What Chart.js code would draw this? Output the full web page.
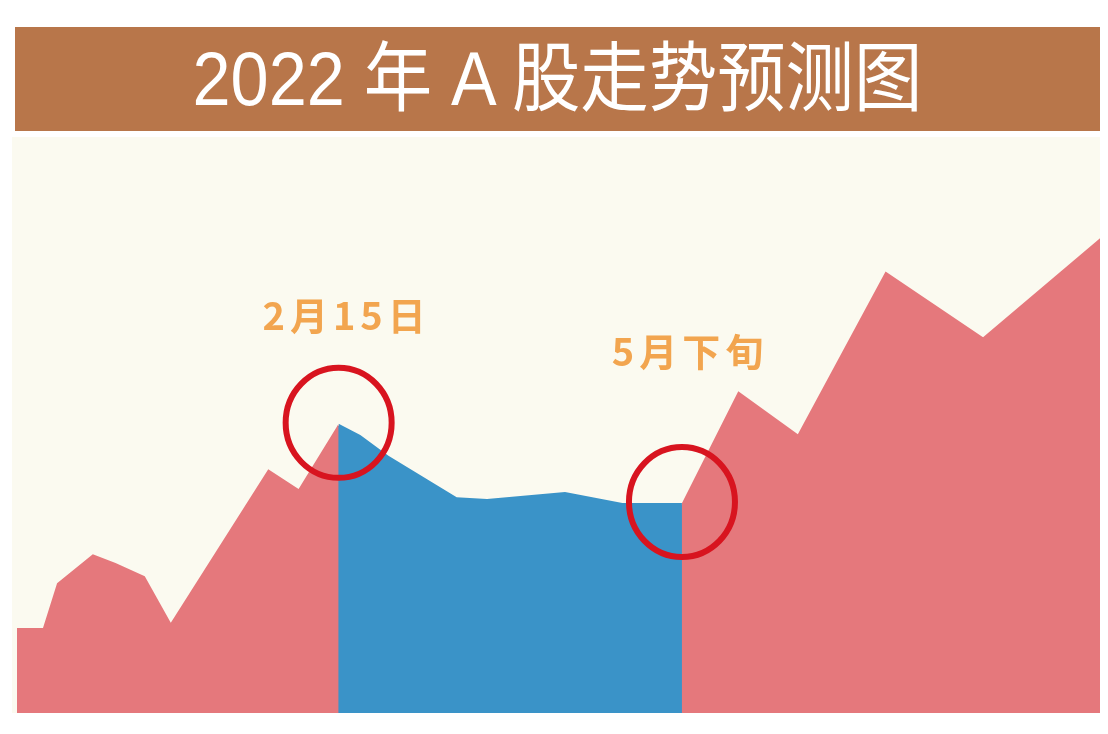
<!DOCTYPE html>
<html>
<head>
<meta charset="utf-8">
<script src="https://cdn.jsdelivr.net/npm/chart.js@4/dist/chart.umd.min.js"></script>
<style>
  body { margin: 0; background: #ffffff; width: 1108px; height: 734px; position: relative; overflow: hidden; }
  #title {
    position: absolute; left: 15px; top: 27px; width: 1085px; height: 104px;
    background: #b8764a; color: #ffffff; text-align: center;
    font-family: "Liberation Sans", "Noto Sans CJK SC", sans-serif;
    font-size: 76px; line-height: 104px; white-space: nowrap;
  }
  #title span { display: inline-block; transform: scaleX(0.9); }
  #wrap { position: absolute; left: 12px; top: 137px; width: 1088px; height: 576px; background: #fbfaf0; }
</style>
</head>
<body>
<div id="title"><span>2022 年 A 股走势预测图</span></div>
<div id="wrap"><canvas id="chart"></canvas></div>
<script>
// horizontal position through the year (0 = start, 100 = end) and index level
const positions = [0, 2.4, 3.7, 7.0, 9.1, 11.8, 14.2, 23.2, 26.0, 29.7, 31.7, 34.3, 40.6, 43.4, 50.6, 55.9, 61.4, 66.6, 72.1, 80.2, 89.2, 100]
const levels = [14.6, 14.6, 22.3, 27.3, 25.8, 23.5, 15.5, 41.9, 38.5, 49.7, 47.8, 44.2, 37.1, 36.8, 38.0, 36.1, 36.1, 55.3, 47.9, 75.9, 64.6, 81.6]

// the falling stretch between the two turning points
const fallStart = 9
const fallEnd = 16

const turnLabels = ['2月15日', '5月下旬']
const turnPoints = [fallStart, fallEnd]

const riseColor = '#e5787c'
const fallColor = '#3a93c8'

function slice(from, to) {
  let pts = []
  for (let i = from; i <= to; i++) pts.push({ x: positions[i], y: levels[i] })
  return pts
}

function area(data, color) {
  return {
    data: data,
    backgroundColor: color,
    borderWidth: 0,
    pointRadius: 0,
    fill: 'origin',
    tension: 0
  }
}

const markers = {
  id: 'markers',
  // cover the hairline seam where two areas meet
  beforeDatasetsDraw(chart) {
    const ctx = chart.ctx
    const xs = chart.scales.x
    const ys = chart.scales.y
    turnPoints.forEach((p, i) => {
      const x = xs.getPixelForValue(positions[p])
      ctx.save()
      ctx.beginPath()
      ctx.moveTo(x, ys.getPixelForValue(levels[p]) + 2)
      ctx.lineTo(x, chart.chartArea.bottom)
      ctx.lineWidth = 2
      ctx.strokeStyle = i == 0 ? fallColor : riseColor
      ctx.stroke()
      ctx.restore()
    })
  },
  afterDatasetsDraw(chart) {
    const ctx = chart.ctx
    const xs = chart.scales.x
    const ys = chart.scales.y
    const lift = [107, 150]
    turnPoints.forEach((p, i) => {
      const cx = xs.getPixelForValue(positions[p])
      const cy = ys.getPixelForValue(levels[p]) - 1
      ctx.save()
      ctx.beginPath()
      ctx.ellipse(cx, cy, 53, 55, 0, 0, Math.PI * 2)
      ctx.lineWidth = 6
      ctx.strokeStyle = '#d8141f'
      ctx.stroke()
      ctx.fillStyle = '#f2a54f'
      ctx.font = 'bold 38px "Noto Sans CJK SC", sans-serif'
      ctx.letterSpacing = '5px'
      ctx.textAlign = 'center'
      ctx.textBaseline = 'middle'
      ctx.fillText(turnLabels[i], cx + 8, cy - lift[i])
      ctx.restore()
    })
  }
}

new Chart(document.getElementById('chart'), {
  type: 'line',
  data: {
    datasets: [
      area(slice(0, fallStart), riseColor),
      area(slice(fallStart, fallEnd), fallColor),
      area(slice(fallEnd, positions.length - 1), riseColor)
    ]
  },
  options: {
    responsive: true,
    maintainAspectRatio: false,
    animation: false,
    layout: { padding: { left: 5, right: 0, top: 0, bottom: 0 } },
    plugins: { legend: { display: false }, tooltip: { enabled: false } },
    scales: {
      x: { type: 'linear', min: 0, max: 100, display: false },
      y: { min: 0, max: 99, display: false }
    }
  },
  plugins: [markers]
})
</script>
</body>
</html>
